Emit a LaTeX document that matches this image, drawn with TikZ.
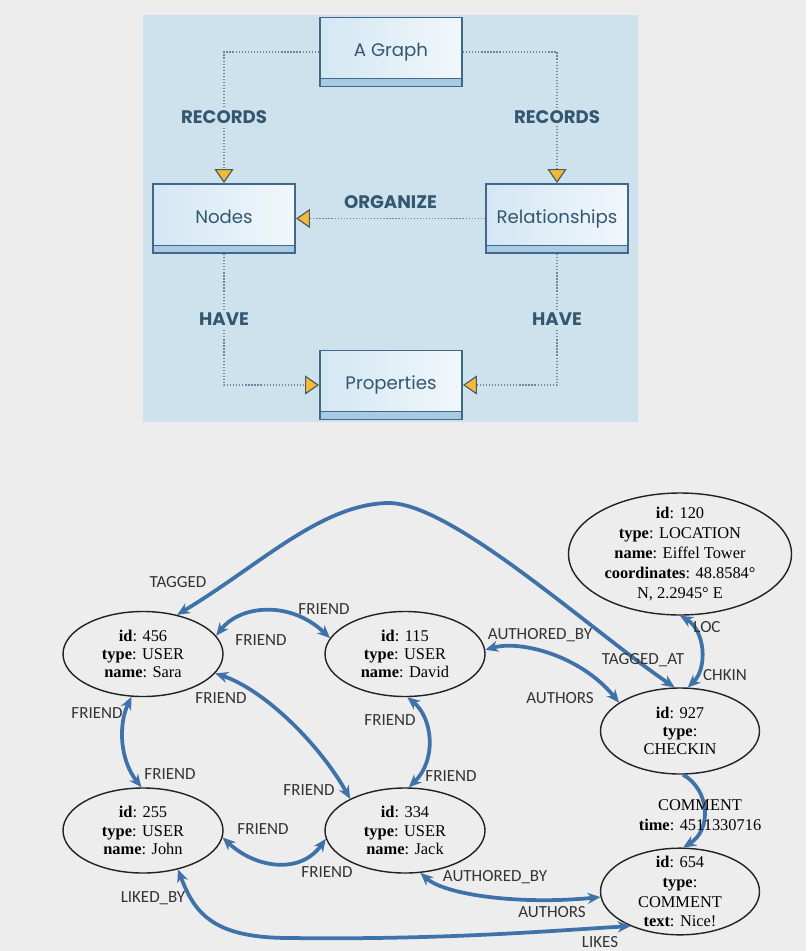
\documentclass[tikz,border=0pt]{standalone}
\usepackage{fontspec}
\setmainfont{Liberation Serif}
\newfontfamily\lblfont{Carlito}
\newfontfamily\boxfont{Poppins}
\usetikzlibrary{arrows.meta,shapes.geometric}

\definecolor{bg}{HTML}{EDEDED}
\definecolor{panel}{HTML}{CEE2EE}
\definecolor{boxline}{HTML}{41688A}
\definecolor{boxtop}{HTML}{D3E7F3}
\definecolor{boxlow}{HTML}{F1F7FB}
\definecolor{stripe}{HTML}{A8CAE3}
\definecolor{boxtext}{HTML}{34576F}
\definecolor{dots}{HTML}{6A889F}
\definecolor{tipfill}{HTML}{F2BA38}
\definecolor{tipline}{HTML}{4E5A62}
\definecolor{relblue}{HTML}{3E72A8}
\definecolor{entline}{HTML}{222222}
\definecolor{lbltext}{HTML}{333333}

\tikzset{
	conceptbox/.style={draw=boxline, line width=1.6pt, left color=boxtop, right color=boxlow,
		minimum width=4.26cm, minimum height=2.07cm, inner sep=0pt, text=boxtext,
		font=\boxfont\fontsize{15.5}{18}\selectfont,
		path picture={\fill[stripe] (path picture bounding box.south west) rectangle ([yshift=0.24cm]path picture bounding box.south east);
			\draw[boxline, line width=0.8pt] ([yshift=0.24cm]path picture bounding box.south west) -- ([yshift=0.24cm]path picture bounding box.south east);}},
	dotline/.style={draw=dots, line width=1.5pt, dash pattern=on 1.1pt off 1.5pt,
		-{Triangle[length=0.42cm, width=0.57cm, color=tipline, fill=tipfill, line width=1pt]}},
	reltag/.style={fill=panel, text=boxtext, inner sep=2pt, font=\boxfont\bfseries\fontsize{15.5}{18}\selectfont},
	entity/.style={ellipse, draw=entline, line width=1.2pt, inner sep=0pt},
	enttext/.style={align=center, inner sep=0pt, font=\fontsize{14}{15.6}\selectfont},
	enttextwide/.style={enttext, font=\fontsize{14}{17}\selectfont},
	edgelbl/.style={text=lbltext, inner sep=0pt, font=\lblfont\fontsize{14.5}{16}\selectfont},
	rel/.style={draw=relblue, line width=3.2pt, arrows={Stealth[length=11pt,width=9.5pt]-Stealth[length=11pt,width=9.5pt]}},
	relone/.style={rel, arrows={-Stealth[length=11pt,width=9.5pt]}}
}

\begin{document}
\begin{tikzpicture}[x=0.03cm, y=-0.03cm]
	\useasboundingbox (0,0) rectangle (806,951);
	\fill[bg] (0,0) rectangle (806,951);
	\fill[panel] (143,15) rectangle (638,422);

	\node[conceptbox] (graph) at (391,52) {\raisebox{0.12cm}{A Graph}};
	\node[conceptbox] (nodes) at (224,218.5) {\raisebox{0.12cm}{Nodes}};
	\node[conceptbox] (rels) at (557,218.5) {\raisebox{0.12cm}{Relationships}};
	\node[conceptbox] (props) at (391,385) {\raisebox{0.12cm}{Properties}};

	\draw[dotline] (graph.west) -| (nodes.north) node[reltag, pos=0.75] {RECORDS};
	\draw[dotline] (graph.east) -| (rels.north) node[reltag, pos=0.75] {RECORDS};
	\draw[dotline] (rels.west) -- (nodes.east) node[reltag, midway, above=6pt] {ORGANIZE};
	\draw[dotline] (nodes.south) |- (props.west) node[reltag, pos=0.25] {HAVE};
	\draw[dotline] (rels.south) |- (props.east) node[reltag, pos=0.25] {HAVE};

	\node[entity, minimum width=4.8cm, minimum height=2.55cm,
		label={[enttext, name=sara-t]center:{\textbf{id}: 456\\ \textbf{type}: USER\\ \textbf{name}: Sara}}] (sara) at (143,654) {};
	\node[entity, minimum width=4.8cm, minimum height=2.55cm,
		label={[enttext, name=david-t]center:{\textbf{id}: 115\\ \textbf{type}: USER\\ \textbf{name}: David}}] (david) at (405,654) {};
	\node[entity, minimum width=4.8cm, minimum height=2.55cm,
		label={[enttext, name=john-t]center:{\textbf{id}: 255\\ \textbf{type}: USER\\ \textbf{name}: John}}] (john) at (143,830.5) {};
	\node[entity, minimum width=4.8cm, minimum height=2.55cm,
		label={[enttext, name=jack-t]center:{\textbf{id}: 334\\ \textbf{type}: USER\\ \textbf{name}: Jack}}] (jack) at (405,830.5) {};
	\node[entity, minimum width=6.69cm, minimum height=3.66cm,
		label={[enttextwide, name=loc-t]center:{\textbf{id}: 120\\ \textbf{type}: LOCATION\\ \textbf{name}: Eiffel Tower\\ \textbf{coordinates}: 48.8584°\\ N, 2.2945° E}}] (loc) at (680,554) {};
	\node[entity, minimum width=4.77cm, minimum height=2.58cm,
		label={[enttext, name=checkin-t]center:{\textbf{id}: 927\\ \textbf{type}:\\ CHECKIN}}] (checkin) at (680,731) {};
	\node[entity, minimum width=4.77cm, minimum height=2.6cm,
		label={[enttextwide, name=comment-t]center:{\textbf{id}: 654\\ \textbf{type}:\\ COMMENT\\ \textbf{text}: Nice!}}] (comment) at (680,891.5) {};

	\draw[rel] (sara.49) .. controls (260,565) and (320,505) .. (387,503) .. controls (450,501) and (590,630) .. (checkin.97);
	\draw[rel] (sara.14) .. controls (240,605) and (290,600) .. (david.168);
	\draw[rel] (sara.255) .. controls (118,725) and (120,760) .. (john.92);
	\draw[rel] (sara.-15) .. controls (265,690) and (320,745) .. (jack.150);
	\draw[rel] (david.273) .. controls (433,718) and (437,760) .. (jack.85);
	\draw[rel] (john.-5) .. controls (255,868) and (300,875) .. (jack.186);
	\draw[rel] (david.3) .. controls (520,640) and (580,655) .. (checkin.155);
	\draw[rel] (loc.270) .. controls (705,630) and (708,668) .. (checkin.80);
	\draw[relone] (checkin.-86) .. controls (710,790) and (712,830) .. (comment.86);
	\draw[rel] (jack.-70) .. controls (445,895) and (520,905) .. (comment.184);
	\draw[rel] (john.-48) .. controls (195,915) and (215,938) .. (290,938) .. controls (450,940) and (560,930) .. (comment.215);

	\node[edgelbl] (l-tagged) at (178,582) {TAGGED};
	\node[edgelbl] (l-taggedat) at (643,660) {TAGGED\_AT};
	\node[edgelbl] (l-sd1) at (324,609) {FRIEND};
	\node[edgelbl] (l-sd2) at (261,640) {FRIEND};
	\node[edgelbl] (l-sj1) at (97,713) {FRIEND};
	\node[edgelbl] (l-sj2) at (170,774) {FRIEND};
	\node[edgelbl] (l-sk1) at (221,698) {FRIEND};
	\node[edgelbl] (l-sk2) at (309,790) {FRIEND};
	\node[edgelbl] (l-dk1) at (390,720) {FRIEND};
	\node[edgelbl] (l-dk2) at (451,776) {FRIEND};
	\node[edgelbl] (l-jk1) at (263,829) {FRIEND};
	\node[edgelbl] (l-jk2) at (327,872) {FRIEND};
	\node[edgelbl] (l-dc1) at (540,635) {AUTHORED\_BY};
	\node[edgelbl] (l-dc2) at (560,698) {AUTHORS};
	\node[edgelbl] (l-loc) at (707,627) {LOC};
	\node[edgelbl] (l-chkin) at (725,675) {CHKIN};
	\node[enttextwide] (l-comment) at (700,815) {COMMENT\\ \textbf{time}: 4511330716};
	\node[edgelbl] (l-kc1) at (495,877) {AUTHORED\_BY};
	\node[edgelbl] (l-kc2) at (552,912) {AUTHORS};
	\node[edgelbl] (l-likedby) at (153,898) {LIKED\_BY};
	\node[edgelbl] (l-likes) at (600,942) {LIKES};
\end{tikzpicture}
\end{document}
